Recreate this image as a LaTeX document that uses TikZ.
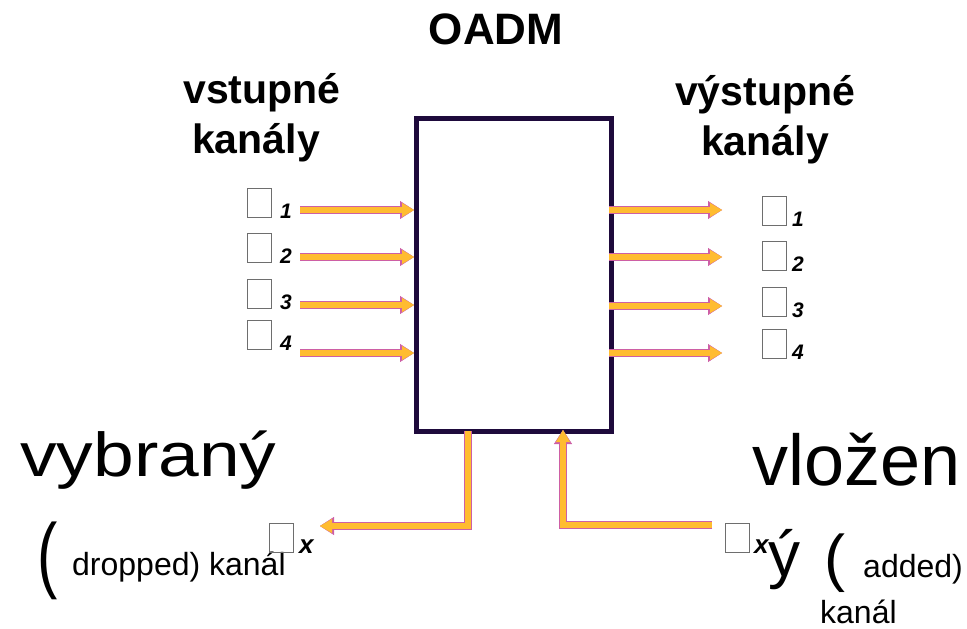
\documentclass[tikz,border=0pt]{standalone}
\usepackage{fontspec}
\setmainfont{Liberation Sans}
\usetikzlibrary{arrows.meta}
\definecolor{boxc}{RGB}{30,10,60}
\definecolor{orangec}{RGB}{255,188,48}
\definecolor{pinkc}{RGB}{205,95,165}
\definecolor{glyphc}{RGB}{110,110,110}
\tikzset{
  chan/.style={line width=5.5pt, draw=orangec, line join=miter,
    -{Triangle[length=12pt,width=14pt,line width=0.3pt]},
    preaction={draw=pinkc, line width=7.5pt, line join=miter,
      -{Triangle[length=14pt,width=18pt,line width=0.3pt]}}},
  gbox/.style={draw=glyphc, line width=0.9pt, inner sep=0pt, minimum width=24pt, minimum height=29pt, anchor=south west},
  num/.style={inner sep=0pt, anchor=base west, font=\fontsize{21}{21}\selectfont\bfseries\itshape},
  xlab/.style={inner sep=0pt, anchor=base west, font=\fontsize{26}{26}\selectfont\bfseries\itshape},
  title/.style={inner sep=0pt, anchor=base, font=\fontsize{41}{41}\selectfont\bfseries},
  txt/.style={inner sep=0pt, anchor=base west},
}
\begin{document}
\begin{tikzpicture}[x=1pt,y=-1pt]
\useasboundingbox (0,0) rectangle (967,629);
% main box
\node[draw=boxc, line width=5pt, minimum width=195pt, minimum height=313pt, inner sep=0pt, anchor=north west] (oadm) at (414,116) {};
% titles
\node[title, font=\fontsize{44}{44}\selectfont\bfseries] (t) at (496,45) {OADM};
\node[title] (in1) at (262,103) {vstupné};
\node[title] (in2) at (256,153) {kanály};
\node[title] (out1) at (765,105) {výstupné};
\node[title] (out2) at (765,155) {kanály};
% input channels
\foreach \i/\y/\b in {1/210/218, 2/257/263, 3/305/309, 4/353/350} {
  \node[gbox] (li\i) at (247,\b) {};
  \node[num] (ln\i) at (280,\b) {\i};
  \coordinate (ls\i) at (300,\y);
  \coordinate (le\i) at (414,\y);
  \draw[chan] (ls\i) -- (le\i);
}
% output channels
\foreach \i/\y/\b in {1/210/226, 2/257/271, 3/306/317, 4/353/359} {
  \node[gbox] (ro\i) at (762,\b) {};
  \node[num] (rn\i) at (792,\b) {\i};
  \coordinate (rs\i) at (609,\y);
  \coordinate (re\i) at (722,\y);
  \draw[chan] (rs\i) -- (re\i);
}
% dropped channel
\coordinate (ds) at (468,431);
\coordinate (de) at (320,526);
\draw[chan] (ds) |- (de);
% added channel
\coordinate (as) at (712,525);
\coordinate (ae) at (563,430);
\draw[chan] (as) -| (ae);
% bottom-left texts
\node[txt] (vyb) at (20,476) {\scalebox{1.18}[1]{\fontsize{62}{62}\selectfont vybraný}};
\node[txt] (lpar) at (37,582) {\scalebox{0.8}[1.1]{\fontsize{76}{76}\selectfont (}};
\node[txt] (drop) at (72,575) {\fontsize{32}{32}\selectfont dropped) kanál};
\node[gbox] (lx) at (269,553) {};
\node[xlab] (lxn) at (299,553) {x};
% bottom-right texts
\node[txt] (vlo) at (752,485) {\fontsize{72}{72}\selectfont vložen};
\node[gbox] (rx) at (725,553) {};
\node[xlab] (rxn) at (754,553) {x};
\node[txt] (yy) at (768,576) {\fontsize{64}{64}\selectfont ý};
\node[txt] (rpar) at (824,579) {\fontsize{63}{63}\selectfont (};
\node[txt] (add) at (863,577) {\fontsize{32}{32}\selectfont added)};
\node[txt] (kan) at (820,623) {\fontsize{32}{32}\selectfont kanál};
\end{tikzpicture}
\end{document}
